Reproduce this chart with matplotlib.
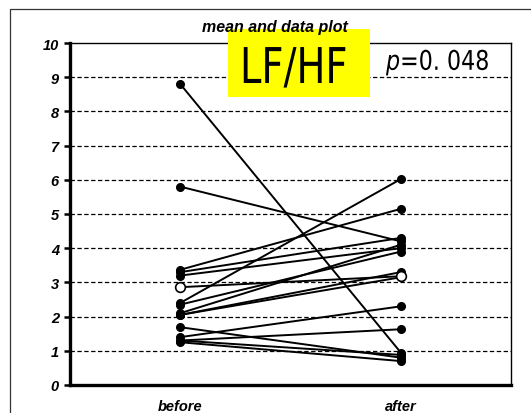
import matplotlib
matplotlib.use("Agg")
import matplotlib.pyplot as plt
from matplotlib.patches import Rectangle
from matplotlib.patheffects import AbstractPathEffect
from matplotlib.transforms import Affine2D

# ---- data ----
groups = ["before", "after"]
before = [8.8, 5.8, 3.37, 3.3, 3.2, 2.4, 2.35, 2.1, 2.05, 2.05, 1.69, 1.4, 1.3, 1.3, 1.25]
after = [0.95, 4.2, 5.15, 4.3, 4.0, 6.02, 3.9, 4.1, 3.3, 3.15, 0.8, 2.3, 1.63, 0.88, 0.7]
mean_vals = [2.86, 3.18]
y_ticks = [0, 1, 2, 3, 4, 5, 6, 7, 8, 9, 10]
title_text = "mean and data plot"
label_text = "LF/HF"
p_text = r"$p$=0. 048"


class Squeeze(AbstractPathEffect):
    """Narrow the glyphs horizontally (keeps left edge fixed)."""
    def __init__(self, sx):
        super().__init__()
        self.sx = sx

    def draw_path(self, renderer, gc, tpath, affine, rgbFace=None):
        renderer.draw_path(gc, tpath, Affine2D().scale(self.sx, 1.0) + affine, rgbFace)


W, H = 531, 414
fig = plt.figure(figsize=(W / 100, H / 100), dpi=100)
fig.patch.set_facecolor("white")
plt.rcParams["mathtext.fontset"] = "dejavusans"

# outer chart frame (extends past right/bottom edge)
fig.patches.append(Rectangle((10 / W, -0.2), 1.5, (H - 10) / H + 0.2,
                             transform=fig.transFigure, fill=False,
                             edgecolor="#333333", linewidth=0.9))

ax = fig.add_axes([70 / W, 28 / H, (511 - 70) / W, (386 - 44) / H])
xpos = [1, 2]
for b, a in zip(before, after):
    ax.plot(xpos, [b, a], color="black", linewidth=1.4, marker="o",
            markersize=5.5, markerfacecolor="black", markeredgecolor="black",
            zorder=3)
ax.plot(xpos, mean_vals, color="black", linewidth=1.4, marker="o",
        markersize=7, markerfacecolor="white", markeredgecolor="black",
        markeredgewidth=1.2, zorder=4)

ax.set_xlim(0.5, 2.5)
ax.set_ylim(0, 10)
ax.set_yticks(y_ticks)
ax.set_yticklabels([str(t) for t in y_ticks], fontsize=10.5, fontweight="bold",
                   fontstyle="italic", family="Liberation Sans")
ax.set_xticks(xpos)
ax.set_xticklabels(groups, fontsize=10.5, fontweight="bold", fontstyle="italic",
                   family="Liberation Sans")
ax.tick_params(axis="x", length=0, pad=10)
ax.tick_params(axis="y", direction="out", length=4, width=1.8, pad=4)

for yv in y_ticks[1:-1]:
    ax.axhline(yv, color="black", linewidth=0.9, linestyle=(0, (3.5, 2)), zorder=1)

ax.spines["left"].set_linewidth(2.4)
ax.spines["bottom"].set_linewidth(2.4)
ax.spines["top"].set_linewidth(1.0)
ax.spines["right"].set_linewidth(1.0)

fig.patches.append(Rectangle((228 / W, 1 - 98 / H), (370 - 228) / W, (98 - 30) / H,
                             transform=fig.transFigure, facecolor="#FFFF00",
                             edgecolor="none", zorder=5))

fig.text(275 / W, 1 - 32 / H, title_text, ha="center", va="baseline",
         fontsize=11.5, fontweight="bold", fontstyle="italic",
         family="Liberation Sans", zorder=7)

fig.text(240 / W, 1 - 84 / H, label_text, ha="left", va="baseline",
         fontsize=35.5, family="DejaVu Sans", zorder=6,
         path_effects=[Squeeze(0.78)])

fig.text(386 / W, 1 - 71 / H, p_text, ha="left", va="baseline", fontsize=19.5,
         family="DejaVu Sans", zorder=6, path_effects=[Squeeze(0.82)])

fig.savefig("out.png", dpi=100)
